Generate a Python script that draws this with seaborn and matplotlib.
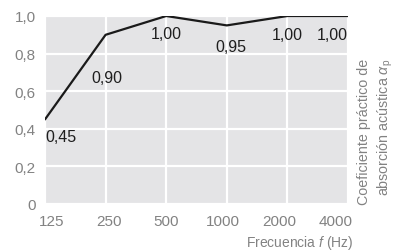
import numpy as np
import pandas as pd
import matplotlib
matplotlib.use("Agg")
import matplotlib.pyplot as plt
import matplotlib.transforms as mtransforms
import seaborn as sns

# octave band centre frequencies and practical absorption coefficient
freqs = ["125", "250", "500", "1000", "2000", "4000"]
alpha_p = [0.45, 0.90, 1.00, 0.95, 1.00, 1.00]
value_labels = ["0,45", "0,90", "1,00", "0,95", "1,00", "1,00"]
y_ticks = [0, 0.2, 0.4, 0.6, 0.8, 1.0]
y_tick_labels = ["0", "0,2", "0,4", "0,6", "0,8", "1,0"]

df = pd.DataFrame({"pos": np.arange(len(freqs)), "alpha": alpha_p})

sns.set_style("white")
plt.rcParams["font.family"] = ["Liberation Sans", "DejaVu Sans"]
plt.rcParams["mathtext.fontset"] = "custom"
plt.rcParams["mathtext.rm"] = "Liberation Sans"
plt.rcParams["mathtext.it"] = "Liberation Sans:italic"

grey_txt = "#828282"
dark_txt = "#1e1e1e"

fig = plt.figure(figsize=(3.97, 2.51), dpi=100)
ax = fig.add_axes([45 / 397, 1 - 205 / 251, 303 / 397, 188 / 251])
ax.set_facecolor("#e4e4e6")

sns.lineplot(data=df, x="pos", y="alpha", color="#1a1a1a", linewidth=1.6, ax=ax)

ax.set_xlim(0, len(freqs) - 1)
ax.set_ylim(0, 1.0)
ax.set_xticks(df["pos"])
ax.set_xticklabels(freqs)
ax.set_yticks(y_ticks)
ax.set_yticklabels(y_tick_labels)
ax.grid(True, color="white", linewidth=1.6)
ax.set_axisbelow(True)
for s in ax.spines.values():
    s.set_visible(False)
ax.tick_params(length=0, labelsize=11, colors=grey_txt)
ax.tick_params(axis="y", pad=6.5)
ax.tick_params(axis="x", pad=7)
# tick labels in the original sit slightly inside the plotting area
for i, lab in enumerate(ax.get_xticklabels()):
    shift = (7 - 3.8 * i) / 100
    lab.set_transform(lab.get_transform() +
                      mtransforms.ScaledTranslation(shift, 0, fig.dpi_scale_trans))
ax.set_xlabel("")
ax.set_ylabel("")

# value annotations near each point
offsets = [(0, -7, "left"), (1, -25, "center"), (0, -7, "center"),
           (3, -10, "center"), (0, -8, "center"), (0, -8, "right")]
for (px, val, lab), (dx, dy, ha) in zip(zip(df["pos"], alpha_p, value_labels), offsets):
    ax.annotate(lab, (px, val), xytext=(dx, dy), textcoords="offset points",
                ha=ha, va="top", fontsize=11.5, color=dark_txt)

fig.text(354 / 397, 1 - 243 / 251, r"Frecuencia $\it{f}$ (Hz)", ha="right",
         va="center", fontsize=10, color=grey_txt)
fig.text(376 / 397, 1 - 205 / 251,
         "Coeficiente práctico de\nabsorción acústica " + r"$\alpha_\mathrm{p}$",
         rotation=90, ha="center", va="bottom", fontsize=10.3, color=grey_txt,
         linespacing=1.35, multialignment="right")

fig.savefig("out.png", dpi=100)
